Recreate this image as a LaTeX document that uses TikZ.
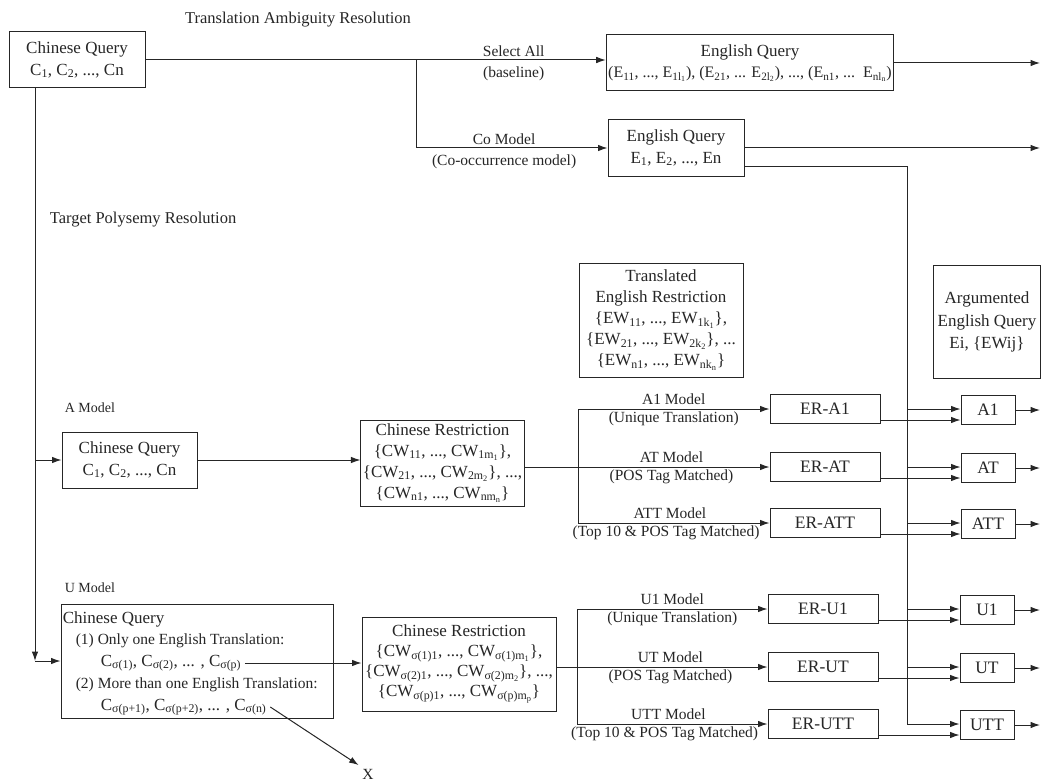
\documentclass[tikz,border=0pt]{standalone}
\usepackage{fontspec}
\setmainfont{Liberation Serif}
\usetikzlibrary{positioning,calc,arrows.meta}

\newcommand{\sub}[1]{\textsubscript{#1}}

\begin{document}
\begin{tikzpicture}[x=1pt, y=-1pt, color=black!85, line width=1pt,
  >={Latex[length=9.5pt,width=6.5pt]},
  every node/.style={font=\fontsize{17}{21.5}\selectfont},
  box/.style={rectangle, draw, align=center, inner sep=2pt},
  erbox/.style={box, minimum width=110pt, minimum height=29pt, font=\fontsize{17.5}{20}\selectfont},
  resbox/.style={box, minimum width=54pt, minimum height=29pt, font=\fontsize{17.5}{20}\selectfont},
  lbl/.style={font=\fontsize{15.5}{18}\selectfont},
  hdr/.style={font=\fontsize{16.5}{19}\selectfont},
  mdl/.style={font=\fontsize{14}{16}\selectfont, anchor=west},
  lblup/.style={lbl, above, inner sep=4pt},
  lbldn/.style={lbl, below, inner sep=2.5pt}]
\useasboundingbox[fill=white] (0,0) rectangle (1042,781);

% headings
\node[hdr] (ltrans) at (298,20) {Translation Ambiguity Resolution};
\node[hdr, anchor=west] (ltar) at (46,220) {Target Polysemy Resolution};
\node[mdl] (lamod) at (61,408) {A Model};
\node[mdl] (lumod) at (61,588) {U Model};

% translation part
\node[box, minimum width=136pt, minimum height=56pt] (cq) at (77,60) {Chinese Query\\C\sub{1}, C\sub{2}, ..., Cn};
\node[box, minimum width=284pt, minimum height=56pt] (eq1) at (750,63) {English Query\\{\fontsize{16}{20}\selectfont(E\sub{11}, ..., E\sub{1l\sub{1}}), (E\sub{21}, ... E\sub{2l\sub{2}}), ..., (E\sub{n1}, ... \,E\sub{nl\sub{n}})}};
\node[box, minimum width=136pt, minimum height=57pt] (eq2) at (676,148) {English Query\\E\sub{1}, E\sub{2}, ..., En};

\node[box, minimum width=164pt, minimum height=114pt, font=\fontsize{17}{21}\selectfont] (ter) at (661,320) {Translated\\English Restriction\\\{EW\sub{11}, ..., EW\sub{1k\sub{1}}\},\\\{EW\sub{21}, ..., EW\sub{2k\sub{2}}\}, ...\\\{EW\sub{n1}, ..., EW\sub{nk\sub{n}}\}};
\node[box, minimum width=107pt, minimum height=113pt, font=\fontsize{17}{22.5}\selectfont] (aeq) at (987,322) {Argumented\\English Query\\Ei, \{EWij\}};

% A model
\node[box, minimum width=135pt, minimum height=56pt] (acq) at (129.5,460) {Chinese Query\\C\sub{1}, C\sub{2}, ..., Cn};
\node[box, minimum width=163pt, minimum height=86pt, font=\fontsize{17}{21}\selectfont] (acr) at (442.5,463) {Chinese Restriction\\\{CW\sub{11}, ..., CW\sub{1m\sub{1}}\},\\\{CW\sub{21}, ..., CW\sub{2m\sub{2}}\}, ...,\\\{CW\sub{n1}, ..., CW\sub{nm\sub{n}}\}};

% U model
\node[box, minimum width=272pt, minimum height=114pt] (ucq) at (197,661) {};
\node[anchor=west] (ucqt) at (59,619) {Chinese Query};
\node[lbl, anchor=west] (uc1) at (72,641) {(1) Only one English Translation:};
\node[anchor=west] (ucp) at (97,663) {C\sub{σ(1)}, C\sub{σ(2)}, ... , C\sub{σ(p)}};
\node[lbl, anchor=west] (uc2) at (72,685) {(2) More than one English Translation:};
\node[anchor=west] (ucn) at (97,707) {C\sub{σ(p+1)}, C\sub{σ(p+2)}, ... , C\sub{σ(n)}};
\node[box, minimum width=194pt, minimum height=94pt, font=\fontsize{17}{20}\selectfont] (ucr) at (459,664) {Chinese Restriction\\\{CW\sub{σ(1)1}, ..., CW\sub{σ(1)m\sub{1}}\},\\\{CW\sub{σ(2)1}, ..., CW\sub{σ(2)m\sub{2}}\}, ...,\\\{CW\sub{σ(p)1}, ..., CW\sub{σ(p)m\sub{p}}\}};
\node[lbl] (xlbl) at (368,774) {X};

% ER boxes and results
\node[erbox] (era1) at (825,409) {ER-A1};
\node[erbox] (erat) at (825,467) {ER-AT};
\node[erbox] (eratt) at (825,523) {ER-ATT};
\node[erbox] (eru1) at (823,609) {ER-U1};
\node[erbox] (erut) at (823,667) {ER-UT};
\node[erbox] (erutt) at (823,724) {ER-UTT};
\node[resbox] (ra1) at (988,410) {A1};
\node[resbox] (rat) at (988,468) {AT};
\node[resbox] (ratt) at (988,524) {ATT};
\node[resbox] (ru1) at (987,610) {U1};
\node[resbox] (rut) at (987,668) {UT};
\node[resbox] (rutt) at (987,725) {UTT};

\coordinate (trk) at (35,0);
\coordinate (br1) at (416,0);
\coordinate (abr) at (578,0);
\coordinate (ubr) at (577,0);
\coordinate (vx) at (907,0);
\coordinate (redge) at (1040,0);

% translation ambiguity
\draw[->] (cq.east) -- (cq.east -| eq1.west)
  node[lblup, pos=0.8, inner sep=3pt] (lsel) {Select All}
  node[lbldn, pos=0.8, inner sep=6pt] (lbase) {(baseline)};
\draw[->] (br1 |- cq.east) |- (eq2.west)
  node[lblup, pos=0.73, inner sep=3pt] (lco) {Co Model}
  node[lbldn, pos=0.73, inner sep=6pt] (lcod) {(Co-occurrence model)};
\draw[->] (eq1.east) -- (eq1.east -| redge);
\draw[->] (eq2.east) -- (eq2.east -| redge);
\draw[->] ($(eq2.east)+(0,19)$) -| (vx |- erutt) -- (rutt.west |- erutt);

% trunk
\draw[->] (cq.south -| trk) -- (trk |- ucq.west);
\draw[->] (trk |- ucq.west) -- (ucq.west);
\draw[->] (trk |- acq.west) -- (acq.west);

% A model
\draw[->] (acq.east) -- (acq.east -| acr.west);
\draw[->] (acr.east |- erat) -- (erat.west)
  node[lblup, pos=0.6] (lat) {AT Model} node[lbldn, pos=0.6] (latd) {(POS Tag Matched)};
\draw[->] (abr |- erat) |- (era1.west)
  node[lblup, pos=0.75] (la1) {A1 Model} node[lbldn, pos=0.75] (la1d) {(Unique Translation)};
\draw[->] (abr |- erat) |- (eratt.west)
  node[lblup, pos=0.74] (latt) {ATT Model} node[lbldn, pos=0.73] (lattd) {(Top 10 \& POS Tag Matched)};

% U model
\draw[->] (ucp.east) -- (ucp.east -| ucr.west);
\draw[->] (ucn.east) -- (xlbl.north west);
\draw[->] (ucr.east |- erut) -- (erut.west)
  node[lblup, pos=0.54] (lut) {UT Model} node[lbldn, pos=0.54] (lutd) {(POS Tag Matched)};
\draw[->] (ubr |- erut) |- (eru1.west)
  node[lblup, pos=0.75] (lu1) {U1 Model} node[lbldn, pos=0.75] (lu1d) {(Unique Translation)};
\draw[->] (ubr |- erut) |- (erutt.west)
  node[lblup, pos=0.74] (lutt) {UTT Model} node[lbldn, pos=0.73] (luttd) {(Top 10 \& POS Tag Matched)};

% into the result boxes
\draw[->] (vx |- era1) -- (ra1.west |- era1);
\draw[->] (vx |- erat) -- (rat.west |- erat);
\draw[->] (vx |- eratt) -- (ratt.west |- eratt);
\draw[->] (vx |- eru1) -- (ru1.west |- eru1);
\draw[->] (vx |- erut) -- (rut.west |- erut);
\draw[->] ($(era1.east)+(0,11)$) -- ($(ra1.west)+(0,10)$);
\draw[->] ($(erat.east)+(0,11)$) -- ($(rat.west)+(0,10)$);
\draw[->] ($(eratt.east)+(0,11)$) -- ($(ratt.west)+(0,10)$);
\draw[->] ($(eru1.east)+(0,11)$) -- ($(ru1.west)+(0,10)$);
\draw[->] ($(erut.east)+(0,11)$) -- ($(rut.west)+(0,10)$);
\draw[->] ($(erutt.east)+(0,11)$) -- ($(rutt.west)+(0,10)$);

% outputs
\draw[->] (ra1.east) -- (ra1.east -| redge);
\draw[->] (rat.east) -- (rat.east -| redge);
\draw[->] (ratt.east) -- (ratt.east -| redge);
\draw[->] (ru1.east) -- (ru1.east -| redge);
\draw[->] (rut.east) -- (rut.east -| redge);
\draw[->] (rutt.east) -- (rutt.east -| redge);
\end{tikzpicture}
\end{document}
